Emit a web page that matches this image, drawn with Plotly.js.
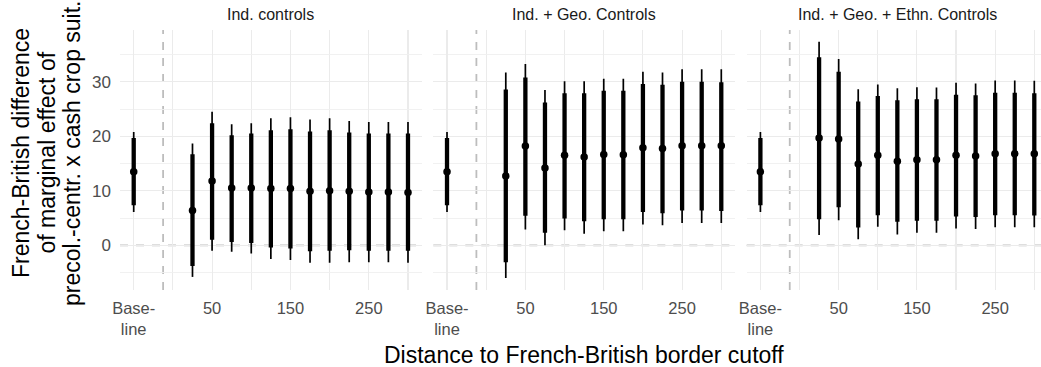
<!DOCTYPE html>
<html>
<head>
<meta charset="utf-8">
<script src="https://cdn.plot.ly/plotly-3.0.1.min.js"></script>
<style>
html,body{margin:0;padding:0;overflow:hidden;background:#fff;}
#chart{width:1050px;height:367px;}
</style>
</head>
<body>
<div id="chart"></div>
<script>
// ---- data ----
const panelTitles = ["Ind. controls", "Ind. + Geo. Controls", "Ind. + Geo. + Ethn. Controls"];
const baselineLabel = "Base-<br>line";
const distances = [25, 50, 75, 100, 125, 150, 175, 200, 225, 250, 275, 300];
const xTickVals = [50, 150, 250];

// baseline estimate (same in all panels)
const baseEst = 13.5, baseLo90 = 7.35, baseHi90 = 19.7, baseLo95 = 6.1, baseHi95 = 20.8;

// Panel 1: Ind. controls
const est1  = [6.4, 11.8, 10.5, 10.5, 10.4, 10.4, 9.9, 10.0, 9.9, 9.8, 9.8, 9.7];
const lo90_1 = [-3.8, 1.0, 0.6, 0.4, -0.4, -0.6, -1.1, -1.0, -0.9, -1.0, -1.0, -1.0];
const hi90_1 = [16.7, 22.4, 20.2, 20.5, 21.1, 21.3, 20.9, 21.1, 20.7, 20.5, 20.5, 20.5];
const lo95_1 = [-5.8, -1.0, -1.2, -1.5, -2.5, -2.7, -3.2, -3.2, -3.1, -3.1, -3.1, -3.2];
const hi95_1 = [18.7, 24.5, 22.2, 22.4, 23.3, 23.5, 23.1, 23.3, 22.8, 22.6, 22.6, 22.6];

// Panel 2: Ind. + Geo. Controls
const est2  = [12.7, 18.2, 14.2, 16.5, 16.2, 16.65, 16.6, 17.9, 17.75, 18.25, 18.25, 18.25];
const lo90_2 = [-3.1, 5.4, 2.3, 4.9, 4.4, 4.8, 4.8, 6.1, 5.9, 6.4, 6.4, 6.3];
const hi90_2 = [28.6, 30.8, 26.2, 27.9, 27.9, 28.35, 28.35, 29.6, 29.45, 30.0, 30.0, 29.9];
const lo95_2 = [-6.0, 2.9, 0.0, 2.75, 2.1, 2.6, 2.6, 3.8, 3.7, 4.1, 4.1, 4.1];
const hi95_2 = [31.7, 33.25, 28.5, 30.1, 30.1, 30.55, 30.55, 31.85, 31.7, 32.3, 32.3, 32.3];

// Panel 3: Ind. + Geo. + Ethn. Controls
const est3  = [19.7, 19.5, 14.9, 16.5, 15.4, 15.7, 15.7, 16.5, 16.4, 16.8, 16.8, 16.8];
const lo90_3 = [4.8, 7.0, 3.25, 5.5, 4.3, 4.5, 4.5, 5.3, 5.2, 5.5, 5.5, 5.45];
const hi90_3 = [34.5, 31.85, 26.4, 27.4, 26.6, 26.8, 26.8, 27.6, 27.55, 28.0, 28.0, 27.9];
const lo95_3 = [1.9, 4.6, 1.1, 3.4, 2.0, 2.3, 2.3, 3.1, 3.0, 3.3, 3.3, 3.3];
const hi95_3 = [37.35, 34.2, 28.65, 29.5, 28.8, 29.0, 28.95, 29.8, 29.7, 30.25, 30.25, 30.2];

const yTickVals = [0, 10, 20, 30];
const yMinorVals = [-5, 5, 15, 25, 35];

// ---- build ----
const BASE_X = -50, SEP_X = -12.5;
const panels = [
  {est: est1, lo90: lo90_1, hi90: hi90_1, lo95: lo95_1, hi95: hi95_1},
  {est: est2, lo90: lo90_2, hi90: hi90_2, lo95: lo95_2, hi95: hi95_2},
  {est: est3, lo90: lo90_3, hi90: hi90_3, lo95: lo95_3, hi95: hi95_3}
];

const W = 1050, ML = 120, MR = 2, MT = 30, MB = 77, H = 367;
const PW = W - ML - MR;
const panelPx = [[120, 421.7], [433.3, 735], [746.7, 1048]];
const domains = panelPx.map(p => [(p[0] - ML) / PW, (p[1] - ML) / PW]);
const dashStyle = {color: '#bdbdbd', width: 1.8, dash: '8px,8px'};

const traces = [];
const layout = {
  width: W, height: H,
  margin: {l: ML, r: MR, t: MT, b: MB},
  paper_bgcolor: '#ffffff', plot_bgcolor: '#ffffff',
  showlegend: false,
  font: {family: 'Liberation Sans, Arial, sans-serif', color: '#4d4d4d'},
  shapes: [], annotations: []
};

panels.forEach((p, i) => {
  const k = i === 0 ? '' : String(i + 1);
  const xs = [BASE_X].concat(distances);
  const est = [baseEst].concat(p.est);
  const lo90 = [baseLo90].concat(p.lo90), hi90 = [baseHi90].concat(p.hi90);
  const lo95 = [baseLo95].concat(p.lo95), hi95 = [baseHi95].concat(p.hi95);
  traces.push({
    type: 'scatter', mode: 'markers', x: xs, y: est, xaxis: 'x' + k, yaxis: 'y' + k,
    marker: {size: 7, color: 'rgba(0,0,0,0)'}, hoverinfo: 'skip',
    error_y: {type: 'data', symmetric: false,
      array: hi95.map((v, j) => v - est[j]), arrayminus: est.map((v, j) => v - lo95[j]),
      thickness: 1.7, width: 0, color: '#000000'}
  });
  traces.push({
    type: 'scatter', mode: 'markers', x: xs, y: est, xaxis: 'x' + k, yaxis: 'y' + k,
    marker: {size: 7.5, color: '#000000'},
    error_y: {type: 'data', symmetric: false,
      array: hi90.map((v, j) => v - est[j]), arrayminus: est.map((v, j) => v - lo90[j]),
      thickness: 4.3, width: 0, color: '#000000'}
  });
  layout['xaxis' + k] = {
    domain: domains[i], anchor: 'y' + k, range: [-67.5, 317.5],
    tickmode: 'array', tickvals: [BASE_X].concat(xTickVals),
    ticktext: [baselineLabel].concat(xTickVals.map(String)),
    tickfont: {size: 16.5, color: '#4d4d4d'}, ticklabelstandoff: 6,
    showgrid: true, gridcolor: '#ebebeb', gridwidth: 1.1,
    minor: {tickmode: 'array', tickvals: [0, 100, 200, 300], showgrid: true, gridcolor: '#ebebeb', gridwidth: 1.1},
    zeroline: false, showline: false, ticks: '', ticklen: 0
  };
  layout['yaxis' + k] = {
    domain: [0, 1], anchor: 'x' + k, range: [-8.2, 39.5],
    tickmode: 'array', tickvals: yTickVals, showticklabels: i === 0,
    tickfont: {size: 17, color: '#4d4d4d'}, ticklabelstandoff: 8,
    showgrid: true, gridcolor: '#ebebeb', gridwidth: 1.1,
    minor: {tickmode: 'array', tickvals: yMinorVals, showgrid: true, gridcolor: '#efefef', gridwidth: 0.9},
    zeroline: false, showline: false, ticks: '', ticklen: 0
  };
  layout.shapes.push({type: 'line', xref: 'x' + k, yref: 'y' + k + ' domain', x0: SEP_X, x1: SEP_X, y0: 0, y1: 1,
    line: dashStyle, layer: 'below'});
  layout.shapes.push({type: 'line', xref: 'x' + k + ' domain', yref: 'y' + k, x0: 0, x1: 1, y0: 0, y1: 0,
    line: dashStyle, layer: 'below'});
  layout.annotations.push({text: panelTitles[i], xref: 'paper', yref: 'paper',
    x: (domains[i][0] + domains[i][1]) / 2, y: 1 + 16 / (H - MT - MB), xanchor: 'center', yanchor: 'middle',
    showarrow: false, font: {size: 16, color: '#1a1a1a'}});
});

// axis titles
const yTitleLines = ["French-British difference", "of marginal effect of", "precol.-centr. x cash crop suit."];
const yLinePx = [21, 46.5, 72];
yTitleLines.forEach((t, j) => {
  layout.annotations.push({text: t, xref: 'paper', yref: 'paper', x: (yLinePx[j] - ML) / PW,
    y: (290 - 153) / (H - MT - MB), xanchor: 'center', yanchor: 'middle', textangle: -90,
    showarrow: false, font: {size: 23, color: '#000000'}});
});
layout.annotations.push({text: "Distance to French-British border cutoff", xref: 'paper', yref: 'paper',
  x: (584 - ML) / PW, y: (290 - 355) / (H - MT - MB), xanchor: 'center', yanchor: 'middle',
  showarrow: false, font: {size: 23, color: '#000000'}});

Plotly.newPlot('chart', traces, layout, {displayModeBar: false, staticPlot: true});
</script>
</body>
</html>
